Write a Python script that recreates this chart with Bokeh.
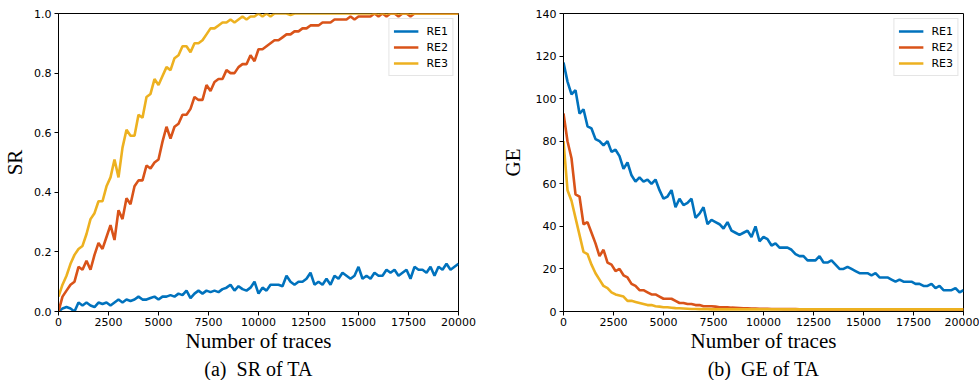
from bokeh.plotting import figure
from bokeh.layouts import row
from bokeh.models import Title, Legend, LegendItem, FixedTicker, PrintfTickFormatter, Range1d
from bokeh.embed import file_html
from bokeh.resources import INLINE

# ---------------- data ----------------
traces = list(range(0, 20001, 200))

sr_re1 = [0.00, 0.01, 0.015, 0.01, 0.00, 0.03, 0.02, 0.03, 0.02, 0.015,
          0.03, 0.025, 0.03, 0.02, 0.03, 0.04, 0.03, 0.04, 0.035, 0.04,
          0.05, 0.04, 0.04, 0.045, 0.05, 0.04, 0.05, 0.05, 0.055, 0.05,
          0.06, 0.055, 0.07, 0.045, 0.06, 0.07, 0.06, 0.07, 0.065, 0.07,
          0.065, 0.075, 0.08, 0.09, 0.07, 0.085, 0.075, 0.07, 0.08, 0.10,
          0.06, 0.08, 0.07, 0.09, 0.09, 0.09, 0.085, 0.12, 0.10, 0.09,
          0.10, 0.10, 0.11, 0.13, 0.09, 0.10, 0.09, 0.11, 0.09, 0.12,
          0.11, 0.13, 0.12, 0.11, 0.12, 0.15, 0.11, 0.12, 0.11, 0.13,
          0.12, 0.12, 0.14, 0.13, 0.14, 0.12, 0.13, 0.14, 0.11, 0.15,
          0.14, 0.14, 0.13, 0.15, 0.12, 0.15, 0.14, 0.16, 0.14, 0.15, 0.16]

sr_re2 = [0.00, 0.05, 0.07, 0.09, 0.10, 0.15, 0.14, 0.17, 0.14, 0.19,
          0.23, 0.21, 0.25, 0.29, 0.24, 0.34, 0.31, 0.38, 0.36, 0.42,
          0.44, 0.44, 0.49, 0.48, 0.50, 0.51, 0.57, 0.62, 0.58, 0.62,
          0.63, 0.66, 0.66, 0.68, 0.72, 0.71, 0.71, 0.76, 0.74, 0.77,
          0.78, 0.78, 0.81, 0.80, 0.80, 0.82, 0.83, 0.83, 0.86, 0.84,
          0.88, 0.88, 0.89, 0.90, 0.91, 0.91, 0.92, 0.93, 0.93, 0.94,
          0.94, 0.95, 0.95, 0.96, 0.96, 0.96, 0.97, 0.97, 0.97, 0.98,
          0.98, 0.98, 0.98, 0.99, 0.98, 0.99, 0.99, 0.99, 0.99, 1.00,
          0.99, 1.00, 0.99, 1.00, 1.00, 0.99, 1.00, 1.00, 0.99, 1.00,
          1.00, 1.00, 1.00, 1.00, 1.00, 1.00, 1.00, 1.00, 1.00, 1.00, 1.00]

sr_re3 = [0.05, 0.09, 0.12, 0.16, 0.19, 0.21, 0.22, 0.26, 0.31, 0.33,
          0.37, 0.37, 0.42, 0.45, 0.51, 0.45, 0.55, 0.61, 0.59, 0.59,
          0.66, 0.65, 0.72, 0.73, 0.78, 0.76, 0.79, 0.82, 0.81, 0.85,
          0.86, 0.89, 0.89, 0.87, 0.90, 0.90, 0.91, 0.93, 0.95, 0.95,
          0.96, 0.97, 0.97, 0.98, 0.97, 0.98, 0.99, 0.98, 0.99, 0.99,
          1.00, 0.99, 1.00, 0.99, 1.00, 1.00, 1.00, 1.00, 0.995, 1.00,
          1.00, 1.00, 1.00, 1.00, 1.00, 1.00, 1.00, 1.00, 1.00, 1.00,
          1.00, 1.00, 1.00, 1.00, 1.00, 1.00, 1.00, 1.00, 1.00, 1.00,
          1.00, 1.00, 1.00, 1.00, 1.00, 1.00, 1.00, 1.00, 1.00, 1.00,
          1.00, 1.00, 1.00, 1.00, 1.00, 1.00, 1.00, 1.00, 1.00, 1.00, 1.00]

ge_re1 = [117, 108, 102, 104, 93, 95, 87, 86, 81, 80,
          78, 80, 75, 76, 73, 67, 70, 64, 61, 63,
          61, 62, 60, 62, 57, 53, 54, 57, 49, 53,
          50, 51, 53, 44, 46, 49, 41, 43, 42, 41,
          39, 42, 38, 37, 36, 37, 38, 35, 40, 33,
          35, 34, 31, 32, 30, 30, 30, 29, 27, 26,
          26, 24, 24, 24, 26, 23, 23, 24, 22, 20,
          20, 21, 20, 19, 18, 18, 18, 17, 18, 16,
          16, 16, 15, 14, 15, 14, 14, 14, 13, 13,
          12, 12, 13, 11, 12, 10, 10, 10, 11, 9, 10]

ge_re2 = [93, 80, 72, 55, 54, 41, 42, 37, 32, 26,
          29, 23, 22, 19, 20, 17, 16, 13, 12, 10,
          10, 9, 8, 8, 7, 6, 6, 6, 5, 4,
          4, 3.5, 3.5, 3, 3, 2.5, 2.5, 2.5, 2.3, 2,
          2, 2, 1.8, 1.7, 1.6, 1.5, 1.5, 1.4, 1.4, 1.3,
          1.3, 1.3, 1.2, 1.2, 1.2, 1.1, 1.1, 1.1, 1.1, 1.0,
          1.0, 1.0, 1.0, 1.0, 1.0, 1.0, 1.0, 1.0, 1.0, 1.0,
          1.0, 1.0, 1.0, 1.0, 1.0, 1.0, 1.0, 1.0, 1.0, 1.0,
          1.0, 1.0, 1.0, 1.0, 1.0, 1.0, 1.0, 1.0, 1.0, 1.0,
          1.0, 1.0, 1.0, 1.0, 1.0, 1.0, 1.0, 1.0, 1.0, 1.0, 1.0]

ge_re3 = [80, 57, 52, 44, 36, 28, 27, 22, 18, 15,
          12, 11, 9, 8, 7.5, 7, 5, 5, 4.5, 4,
          3.5, 3, 3, 2.5, 2.3, 2, 2, 1.8, 1.6, 1.5,
          1.4, 1.3, 1.2, 1.2, 1.1, 1.1, 1.1, 1.0, 1.0, 1.0,
          1.0, 1.0, 1.0, 1.0, 1.0, 1.0, 1.0, 1.0, 1.0, 1.0,
          1.0, 1.0, 1.0, 1.0, 1.0, 1.0, 1.0, 1.0, 1.0, 1.0,
          1.0, 1.0, 1.0, 1.0, 1.0, 1.0, 1.0, 1.0, 1.0, 1.0,
          1.0, 1.0, 1.0, 1.0, 1.0, 1.0, 1.0, 1.0, 1.0, 1.0,
          1.0, 1.0, 1.0, 1.0, 1.0, 1.0, 1.0, 1.0, 1.0, 1.0,
          1.0, 1.0, 1.0, 1.0, 1.0, 1.0, 1.0, 1.0, 1.0, 1.0, 1.0]

series_names = ["RE1", "RE2", "RE3"]
colors = ["#0072BD", "#D95319", "#EDB120"]
x_ticks = [0, 2500, 5000, 7500, 10000, 12500, 15000, 17500, 20000]
sr_ticks = [0.0, 0.2, 0.4, 0.6, 0.8, 1.0]
ge_ticks = [0, 20, 40, 60, 80, 100, 120, 140]

SERIF = "Liberation Serif"
SANS = "DejaVu Sans"


def make_panel(ys, ylabel, caption, y_end, yticks, yfmt, width, bl, br, ystandoff):
    p = figure(width=width, height=380, output_backend="svg", toolbar_location=None,
               x_range=Range1d(0, 20000), y_range=Range1d(0, y_end),
               min_border_left=bl, min_border_right=br, min_border_top=13, min_border_bottom=69)
    p.grid.visible = False
    p.outline_line_color = "black"
    p.outline_line_width = 1
    p.background_fill_color = "white"
    p.border_fill_color = "white"
    renderers = []
    for y, c in zip(ys, colors):
        r = p.line(traces, y, line_color=c, line_width=2.6)
        renderers.append(r)
    for ax in (p.xaxis[0], p.yaxis[0]):
        ax.major_tick_in = 0
        ax.major_tick_out = 4
        ax.minor_tick_line_color = None
        ax.axis_line_color = "black"
        ax.major_tick_line_color = "black"
        ax.major_label_text_color = "black"
        ax.major_label_text_font = SANS
        ax.major_label_text_font_size = "11px"
        ax.axis_label_text_font = SERIF
        ax.axis_label_text_font_size = "21px"
        ax.axis_label_text_font_style = "normal"
        ax.axis_label_text_color = "black"
        ax.major_label_standoff = 3
    p.xaxis[0].ticker = FixedTicker(ticks=x_ticks)
    p.yaxis[0].ticker = FixedTicker(ticks=yticks)
    if yfmt:
        p.yaxis[0].formatter = PrintfTickFormatter(format=yfmt)
    p.xaxis[0].axis_label = "Number of traces"
    p.xaxis[0].axis_label_standoff = 0
    p.xaxis[0].major_label_standoff = 2
    p.yaxis[0].axis_label = ylabel
    p.yaxis[0].axis_label_standoff = ystandoff
    cap = Title(text="\u00a0\u00a0".join(caption.split("  ")), align="center", text_font=SERIF,
                text_font_size="20px", text_font_style="normal", text_color="black",
                standoff=0, offset=0)
    p.add_layout(cap, "below")
    legend = Legend(items=[LegendItem(label=n, renderers=[r]) for n, r in zip(series_names, renderers)],
                    location="top_right", label_text_font=SANS, label_text_font_size="11px",
                    label_text_color="black", glyph_width=25, glyph_height=16, label_height=16,
                    label_standoff=8, spacing=0, padding=4, margin=5,
                    border_line_color="#cccccc", border_line_width=1,
                    background_fill_alpha=0.85)
    p.add_layout(legend)
    return p


p1 = make_panel([sr_re1, sr_re2, sr_re3], "SR", "(a)  SR of TA", 1.0, sr_ticks, "%.1f", 490, 58, 32, 4)
p2 = make_panel([ge_re1, ge_re2, ge_re3], "GE", "(b)  GE of TA", 140, ge_ticks, None, 489, 73, 16, 8)

layout = row(p1, p2)
open("out.html", "w").write(file_html(layout, INLINE))
